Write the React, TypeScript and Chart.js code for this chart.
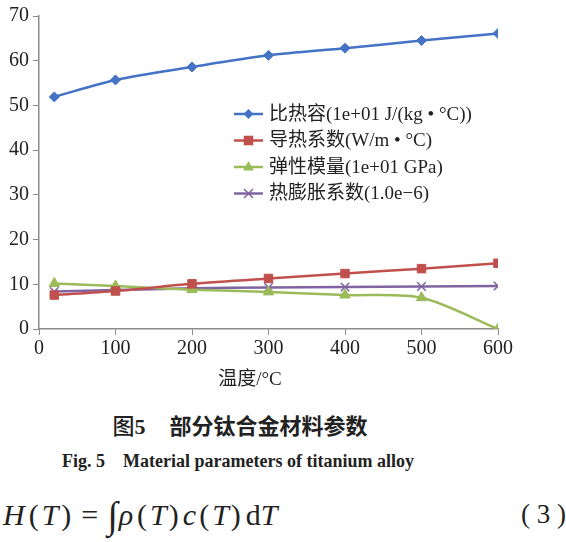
import React, { useEffect, useRef } from "react";
import { Chart, registerables } from "chart.js";

Chart.register(...registerables);

const temperatures = [20, 100, 200, 300, 400, 500, 600];
const specificHeat = [51.9, 55.7, 58.6, 61.2, 62.8, 64.5, 66.1];
const conductivity = [7.6, 8.5, 10.1, 11.3, 12.4, 13.5, 14.7];
const elasticModulus = [10.2, 9.6, 8.8, 8.3, 7.6, 7.0, 0];
const expansion = [8.4, 8.7, 9.1, 9.3, 9.4, 9.5, 9.6];
const seriesNames = [
  "比热容(1e+01 J/(kg • °C))",
  "导热系数(W/m • °C)",
  "弹性模量(1e+01 GPa)",
  "热膨胀系数(1.0e−6)",
];
const xAxisTitle = "温度/°C";
const captionCn = ["图", "5", "部分钛合金材料参数"];
const captionEn = "Fig. 5    Material parameters of titanium alloy";

const colors = ["#4472C4", "#C0504D", "#9BBB59", "#8064A2"];
const markers = ["rectRot", "rect", "triangle", "crossRot"];
const markerRadius = [5, 6, 6, 6];

const FONT = "'Liberation Serif', 'Noto Sans CJK SC', serif";

function drawMarker(ctx: CanvasRenderingContext2D, style: string, x: number, y: number, r: number, color: string) {
  ctx.save();
  ctx.fillStyle = color;
  ctx.strokeStyle = color;
  ctx.lineWidth = 1.5;
  ctx.beginPath();
  if (style === "rectRot") {
    ctx.moveTo(x, y - r);
    ctx.lineTo(x + r, y);
    ctx.lineTo(x, y + r);
    ctx.lineTo(x - r, y);
    ctx.closePath();
    ctx.fill();
  } else if (style === "rect") {
    const s = r * 0.8;
    ctx.rect(x - s, y - s, 2 * s, 2 * s);
    ctx.fill();
  } else if (style === "triangle") {
    ctx.moveTo(x, y - r);
    ctx.lineTo(x + r * 0.9, y + r * 0.6);
    ctx.lineTo(x - r * 0.9, y + r * 0.6);
    ctx.closePath();
    ctx.fill();
  } else {
    const s = r * 0.75;
    ctx.moveTo(x - s, y - s);
    ctx.lineTo(x + s, y + s);
    ctx.moveTo(x + s, y - s);
    ctx.lineTo(x - s, y + s);
    ctx.stroke();
  }
  ctx.restore();
}

const insideLegend = {
  id: "insideLegend",
  afterDraw(chart: any) {
    const ctx = chart.ctx as CanvasRenderingContext2D;
    const area = chart.chartArea;
    const x0 = area.left + 195;
    const y0 = area.top + 98;
    const rowH = 26.5;
    ctx.save();
    chart.data.datasets.forEach((ds: any, i: number) => {
      const y = y0 + i * rowH;
      ctx.strokeStyle = colors[i];
      ctx.lineWidth = 2.5;
      ctx.beginPath();
      ctx.moveTo(x0, y);
      ctx.lineTo(x0 + 29, y);
      ctx.stroke();
      drawMarker(ctx, markers[i], x0 + 14.5, y, markerRadius[i], colors[i]);
      ctx.fillStyle = "#222";
      ctx.font = `19px ${FONT}`;
      ctx.textBaseline = "middle";
      ctx.textAlign = "left";
      ctx.fillText(ds.label, x0 + 35, y + 1);
    });
    ctx.restore();
  },
};

function ChartView() {
  const ref = useRef<HTMLCanvasElement | null>(null);
  useEffect(() => {
    if (!ref.current) return;
    const series = [specificHeat, conductivity, elasticModulus, expansion];
    const chart = new Chart(ref.current, {
      type: "line",
      data: {
        datasets: series.map((vals, i) => ({
          label: seriesNames[i],
          data: temperatures.map((t, j) => ({ x: t, y: vals[j] })),
          borderColor: colors[i],
          backgroundColor: colors[i],
          borderWidth: 2.5,
          pointStyle: markers[i] as any,
          pointRadius: markerRadius[i],
          pointBorderWidth: i === 3 ? 1.5 : 1,
          tension: 0.3,
          fill: false,
        })),
      },
      options: {
        animation: false,
        responsive: false,
        devicePixelRatio: 1,
        layout: { padding: { left: 5, right: 68, top: 7, bottom: 32 } },
        plugins: {
          legend: { display: false },
          tooltip: { enabled: false },
        },
        scales: {
          x: {
            type: "linear",
            min: 0,
            max: 600,
            ticks: { stepSize: 100, color: "#222", font: { family: FONT, size: 20 }, padding: 2, maxRotation: 0 },
            grid: { drawOnChartArea: false, tickLength: 6, color: "#8c8c8c" },
            border: { color: "#8c8c8c", width: 1.5 },
          },
          y: {
            min: 0,
            max: 70,
            ticks: { stepSize: 10, color: "#222", font: { family: FONT, size: 20 }, padding: 4 },
            grid: { drawOnChartArea: false, tickLength: 6, color: "#8c8c8c" },
            border: { color: "#8c8c8c", width: 1.5 },
          },
        },
      },
      plugins: [insideLegend],
    });
    return () => chart.destroy();
  }, []);
  return <canvas ref={ref} width={566} height={395} style={{ display: "block" }} />;
}

const g = (px: number) => ({ marginLeft: px });

export default function App() {
  useEffect(() => {
    document.body.style.margin = "0";
  }, []);
  return (
    <div style={{ position: "relative", width: 566, height: 542, background: "#fff", overflow: "hidden" }}>
      <ChartView />
      <div
        style={{
          position: "absolute",
          top: 367,
          left: 200,
          width: 100,
          textAlign: "center",
          fontFamily: FONT,
          fontSize: 19,
          color: "#222",
          lineHeight: "24px",
        }}
      >
        {xAxisTitle}
      </div>
      <div
        style={{
          position: "absolute",
          top: 409,
          left: 0,
          width: 480,
          textAlign: "center",
          fontFamily: FONT,
          fontSize: 22,
          color: "#222",
          lineHeight: "30px",
        }}
      >
        <span style={{ fontFamily: "'Noto Sans CJK SC'", fontWeight: 500 }}>{captionCn[0]}</span>
        <span style={{ fontWeight: 700 }}>{captionCn[1]}</span>
        <span style={{ fontFamily: "'Noto Sans CJK SC'", fontWeight: 700, marginLeft: 24 }}>{captionCn[2]}</span>
      </div>
      <div
        style={{
          position: "absolute",
          top: 449,
          left: 0,
          width: 476,
          textAlign: "center",
          fontFamily: "'Liberation Serif'",
          fontWeight: 700,
          fontSize: 18,
          color: "#222",
          whiteSpace: "pre",
          lineHeight: "24px",
        }}
      >
        {captionEn}
      </div>
      <div
        style={{
          position: "absolute",
          top: 494,
          left: 3,
          fontFamily: "'Liberation Serif'",
          fontSize: 30,
          color: "#222",
          whiteSpace: "pre",
          lineHeight: "36px",
        }}
      >
        <i>H</i>
        <span style={g(4)}>(</span>
        <i style={g(3)}>T</i>
        <span style={g(3)}>)</span>
        <span style={g(10)}>=</span>
        <span style={{ ...g(9), fontSize: 38, position: "relative", top: 3 }}>∫</span>
        <i style={g(1)}>ρ</i>
        <span style={g(4)}>(</span>
        <i style={g(3)}>T</i>
        <span style={g(2)}>)</span>
        <i style={g(4)}>c</i>
        <span style={g(3)}>(</span>
        <i style={g(3)}>T</i>
        <span style={g(2)}>)</span>
        <span style={g(5)}>d</span>
        <i style={g(0)}>T</i>
      </div>
      <div
        style={{
          position: "absolute",
          top: 497,
          right: 0,
          fontFamily: "'Liberation Serif'",
          fontSize: 27,
          color: "#222",
          lineHeight: "34px",
          whiteSpace: "pre",
        }}
      >
        {"( 3 )"}
      </div>
    </div>
  );
}
